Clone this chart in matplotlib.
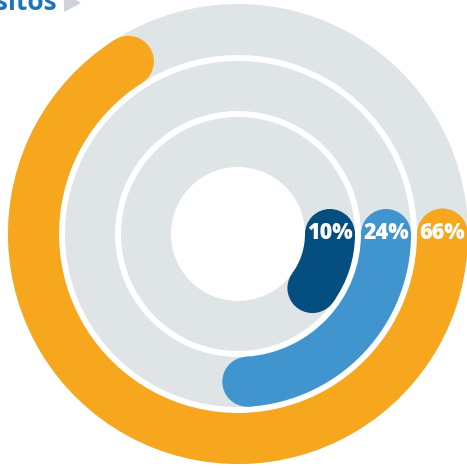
import numpy as np
import matplotlib
matplotlib.use('Agg')
import matplotlib.pyplot as plt
from matplotlib.patches import Wedge, Circle, Polygon

# data: share of each ring (inner -> outer)
labels = ["10%", "24%", "66%"]
values = [10, 24, 66]
colors = ["#054F80", "#4195CE", "#F7A71E"]

# ring geometry in pixels (inner radius, outer radius)
rings = [(67, 117), (123, 173), (179, 230)]
gray = "#DFE4E7"

W, H = 467, 468
cx, cy = 238, 234

fig = plt.figure(figsize=(W / 100, H / 100), dpi=100)
ax = fig.add_axes([0, 0, 1, 1])
ax.set_xlim(-cx, W - cx)
ax.set_ylim(-(H - cy), cy)
ax.axis("off")

for (r0, r1), val, col, lab in zip(rings, values, colors, labels):
    w = r1 - r0
    rm = (r0 + r1) / 2
    # gray track
    ax.add_patch(Wedge((0, 0), r1, 0, 360, width=w, color=gray, lw=0))
    # coloured arc, clockwise from 3 o'clock, rounded ends
    end = -360 * val / 100
    ax.add_patch(Wedge((0, 0), r1, end, 0, width=w, color=col, lw=0))
    for a in (0, end):
        t = np.deg2rad(a)
        ax.add_patch(Circle((rm * np.cos(t), rm * np.sin(t)), w / 2, color=col, lw=0))
    ax.text(rm, 1, lab, color="white", fontsize=15.5, fontweight="heavy",
            family=["Open Sans", "DejaVu Sans"], ha="center", va="center")

# cut-off heading at top left
fig.text(57 / W, 1 - 10 / H, "Depósitos", color="#1B75BB", fontsize=19,
         fontweight="bold", family=["Open Sans", "DejaVu Sans"],
         ha="right", va="baseline")
tri = Polygon([(64 - cx, cy + 7), (64 - cx, cy - 12), (81 - cx, cy - 3)],
              closed=True, color="#CDD3D8", lw=0, clip_on=False)
ax.add_patch(tri)

fig.savefig("out.png", dpi=100)
